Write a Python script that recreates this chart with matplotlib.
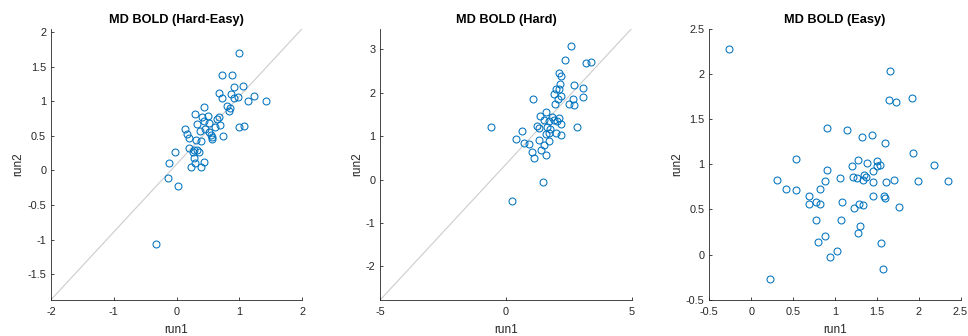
import matplotlib
matplotlib.use('Agg')
import matplotlib.pyplot as plt

plt.rcParams['font.family'] = ['Liberation Sans', 'DejaVu Sans']

# MD BOLD (Hard-Easy)
he_run1 = [0.99, 0.73, 0.88, 0.92, 1.06, 0.68, 0.86, 0.72, 0.92, 0.98, 1.23, 1.14, 1.42,
           0.43, 0.29, 0.81, 0.85, 0.83, 0.41, 0.50, 0.67, 0.64, 0.44, 0.32, 0.52, 0.69,
           0.61, 0.13, 0.46, 0.37, 0.17, 0.19, 0.52, 0.54, 0.56, 0.57, 0.74, 0.99, 1.08,
           0.39, 0.31, 0.20, 0.33, 0.35, 0.26, 0.28, -0.02, 0.27, 0.29, 0.44, 0.23, 0.39,
           -0.12, -0.14, 0.02, -0.33]
he_run2 = [1.70, 1.38, 1.38, 1.20, 1.22, 1.12, 1.11, 1.05, 1.05, 1.06, 1.08, 1.00, 1.00,
           0.92, 0.82, 0.93, 0.90, 0.86, 0.77, 0.78, 0.77, 0.74, 0.71, 0.67, 0.69, 0.65,
           0.62, 0.60, 0.60, 0.57, 0.52, 0.47, 0.56, 0.51, 0.48, 0.46, 0.49, 0.62, 0.64,
           0.43, 0.44, 0.32, 0.30, 0.27, 0.26, 0.29, 0.27, 0.18, 0.11, 0.12, 0.05, 0.05,
           0.10, -0.11, -0.22, -1.07]

# MD BOLD (Hard)
hard_run1 = [2.57, 2.33, 3.18, 3.38, 2.11, 2.17, 2.14, 2.71, 3.07, 1.98, 2.11, 1.90, 2.19,
             2.06, 2.68, 3.05, 1.08, 1.94, 2.50, 2.72, 1.61, 1.34, 1.50, 1.85, 2.10, 1.90,
             1.72, 2.03, 2.17, 1.24, 1.30, 1.64, 1.77, -0.59, 0.64, 2.81, 1.58, 1.70, 1.98,
             2.17, 0.39, 1.30, 0.72, 0.93, 1.72, 1.53, 1.02, 1.40, 1.10, 1.61, 1.46, 0.25]
hard_run2 = [3.08, 2.75, 2.68, 2.72, 2.45, 2.38, 2.20, 2.18, 2.12, 2.08, 2.08, 1.97, 1.92,
             1.85, 1.86, 1.91, 1.86, 1.74, 1.74, 1.71, 1.55, 1.46, 1.38, 1.45, 1.42, 1.37,
             1.35, 1.34, 1.29, 1.24, 1.18, 1.22, 1.16, 1.20, 1.12, 1.20, 1.06, 1.08, 1.08,
             1.02, 0.94, 0.91, 0.85, 0.83, 0.88, 0.80, 0.63, 0.68, 0.49, 0.57, -0.06, -0.50]

# MD BOLD (Easy)
easy_run1 = [-0.27, 1.66, 1.65, 1.73, 1.92, 0.91, 1.14, 1.44, 1.32, 1.60, 1.93, 0.53, 1.27,
             1.38, 1.50, 1.54, 1.50, 1.20, 2.18, 0.91, 1.46, 1.22, 1.26, 1.06, 1.35, 1.37,
             1.33, 0.31, 0.88, 1.46, 1.61, 1.71, 1.99, 2.35, 0.41, 0.53, 0.82, 0.69, 1.45,
             1.58, 1.60, 0.77, 1.09, 0.69, 0.82, 1.29, 1.34, 1.23, 1.77, 0.77, 1.07, 1.30,
             1.27, 0.88, 0.80, 1.55, 1.03, 0.94, 1.57, 0.22]
easy_run2 = [2.27, 2.03, 1.71, 1.69, 1.73, 1.40, 1.38, 1.32, 1.30, 1.23, 1.12, 1.06, 1.05,
             1.01, 1.04, 0.99, 0.98, 0.98, 0.99, 0.93, 0.92, 0.86, 0.85, 0.85, 0.88, 0.86,
             0.83, 0.83, 0.81, 0.80, 0.80, 0.82, 0.81, 0.81, 0.73, 0.71, 0.73, 0.65, 0.65,
             0.65, 0.63, 0.58, 0.58, 0.56, 0.56, 0.56, 0.55, 0.51, 0.53, 0.38, 0.38, 0.32,
             0.24, 0.21, 0.14, 0.13, 0.04, -0.03, -0.16, -0.27]

blue = '#0072BD'
axcol = '#262626'

panels = [
    ('MD BOLD (Hard-Easy)', he_run1, he_run2, (-2, 2), (-1.87, 2.05), [-2, -1, 0, 1, 2],
     [-1.5, -1, -0.5, 0, 0.5, 1, 1.5, 2], True, 0.0527),
    ('MD BOLD (Hard)', hard_run1, hard_run2, (-5, 5), (-2.77, 3.48), [-5, 0, 5],
     [-2, -1, 0, 1, 2, 3], True, 0.393),
    ('MD BOLD (Easy)', easy_run1, easy_run2, (-0.5, 2.5), (-0.5, 2.5),
     [-0.5, 0, 0.5, 1, 1.5, 2, 2.5], [-0.5, 0, 0.5, 1, 1.5, 2, 2.5], False, 0.7328),
]

fig = plt.figure(figsize=(9.68, 3.36), dpi=100)

for title, x, y, xl, yl, xt, yt, diag, left in panels:
    ax = fig.add_axes([left, 0.108, 0.2595, 0.807])
    if diag:
        # reference line corner to corner
        ax.plot(xl, yl, color='#cccccc', linewidth=0.8, zorder=1)
    ax.plot(x, y, 'o', markerfacecolor='none', markeredgecolor=blue,
            markersize=5, markeredgewidth=0.75, zorder=2)
    ax.set_xlim(xl)
    ax.set_ylim(yl)
    ax.set_xticks(xt)
    ax.set_yticks(yt)
    ax.set_xticklabels([f'{v:g}' for v in xt])
    ax.set_yticklabels([f'{v:g}' for v in yt])
    ax.spines['top'].set_visible(False)
    ax.spines['right'].set_visible(False)
    for s in ('left', 'bottom'):
        ax.spines[s].set_color(axcol)
        ax.spines[s].set_linewidth(0.6)
    ax.tick_params(direction='in', length=2.5, width=0.6, colors=axcol,
                   labelsize=7.8)
    ax.tick_params(axis='x', pad=5.5)
    ax.tick_params(axis='y', pad=3.5)
    ax.set_title(title, fontsize=9.2, fontweight='bold', color='black', pad=4)
    ax.set_xlabel('run1', fontsize=8.5, color=axcol, labelpad=4.5)
    ax.set_ylabel('run2', fontsize=8.5, color=axcol, labelpad=2)

fig.savefig('out.png', dpi=100)
plt.close(fig)
